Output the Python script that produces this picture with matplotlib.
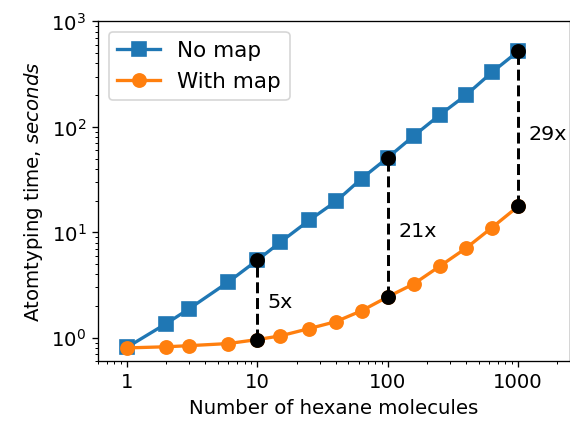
import matplotlib
matplotlib.use("Agg")
import matplotlib.pyplot as plt

molecules = [1, 2, 3, 6, 10, 15, 25, 40, 63, 100, 158, 251, 398, 631, 1000]
no_map = [0.81, 1.36, 1.88, 3.38, 5.44, 8.05, 13.0, 19.6, 32.3, 51.0, 82.0, 130.0, 200.0, 330.0, 521.0]
with_map = [0.80, 0.82, 0.84, 0.88, 0.96, 1.04, 1.22, 1.42, 1.80, 2.44, 3.23, 4.77, 7.06, 11.1, 17.6]
compare_x = [10, 100, 1000]
ratio_labels = ["5x", "21x", "29x"]
label_y = [2.2, 10.2, 86]

plt.rcParams['font.size'] = 12
DPI = 118.75
fig = plt.figure(figsize=(4.8, 3.6), dpi=DPI)
ax = fig.add_axes([98 / 570, 1 - 362 / 428, 472 / 570, 340 / 428])

ax.plot(molecules, no_map, marker='s', markersize=8, lw=2, color='#1f77b4', label='No map')
ax.plot(molecules, with_map, marker='o', markersize=8, lw=2, color='#ff7f0e', label='With map')

for x, lab, ly in zip(compare_x, ratio_labels, label_y):
    i = molecules.index(x)
    y1, y2 = no_map[i], with_map[i]
    ax.plot([x, x], [y2, y1], '--', color='black', lw=1.8, zorder=3)
    ax.plot([x, x], [y2, y1], 'o', color='black', markersize=8, zorder=4)
    ax.text(x * 1.2, ly, lab, ha='left', va='center', fontsize=12.5)

ax.set_xscale('log')
ax.set_yscale('log')
ax.set_xlim(0.6, 2500)
ax.set_ylim(0.6, 1000)
ax.set_xticks([1, 10, 100, 1000])
ax.set_xticklabels(['1', '10', '100', '1000'])
ax.set_xlabel('Number of hexane molecules')
ax.set_ylabel('Atomtyping time, $\\it{seconds}$')
ax.legend(loc='upper left', fontsize=13)

fig.savefig('out.png', dpi=DPI)
